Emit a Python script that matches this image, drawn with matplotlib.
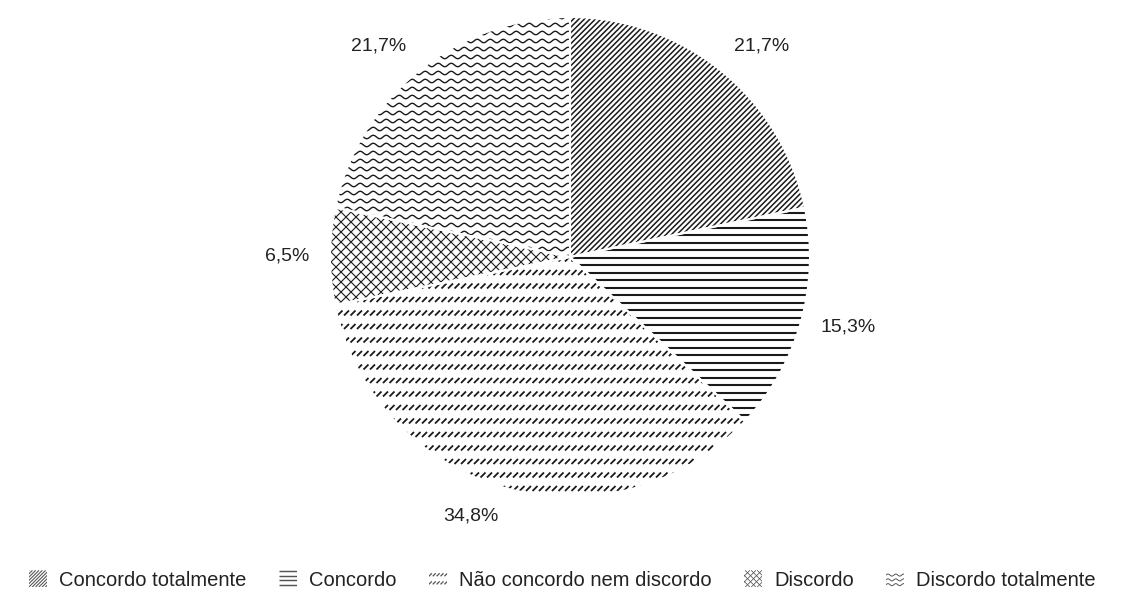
import numpy as np
import matplotlib.pyplot as plt
from matplotlib.collections import LineCollection
from matplotlib.patches import Rectangle, Wedge
from matplotlib.legend_handler import HandlerBase

plt.rcParams['font.family'] = ['Liberation Sans', 'DejaVu Sans']

# data
categories = ['Concordo totalmente', 'Concordo', 'Não concordo nem discordo',
              'Discordo', 'Discordo totalmente']
shares = [21.7, 15.3, 34.8, 6.5, 21.7]
pct_labels = ['21,7%', '15,3%', '34,8%', '6,5%', '21,7%']
textures = ['diag', 'horiz', 'slash', 'cross', 'wave']

W, H, DPI = 1125, 592, 100
R_PX = 240          # pie radius in pixels
CX, CY = 570, 257   # pie centre (pixels from top-left)
FS = 14
TXT = '#222222'


def texture_segments(kind, x0, y0, x1, y1, px):
    """line segments filling the box (x0,y0)-(x1,y1); px = one pixel in box units"""
    segs = []
    w, h = x1 - x0, y1 - y0
    if kind == 'diag':
        s = 5.5 * px
        for c in np.arange(-h, w + s, s):
            segs.append([(x0 + c, y0), (x0 + c + h, y1)])
    elif kind == 'horiz':
        s = 7.5 * px
        for y in np.arange(y0 + s / 2, y1, s):
            segs.append([(x0, y), (x1, y)])
    elif kind == 'cross':
        s = 10 * px
        for c in np.arange(-h, w + s, s):
            segs.append([(x0 + c, y0), (x0 + c + h, y1)])
            segs.append([(x0 + c + h, y0), (x0 + c, y1)])
    elif kind == 'slash':
        rs, cs, d = 13.5 * px, 6.5 * px, 5 * px
        for y in np.arange(y0 + rs / 3, y1, rs):
            for x in np.arange(x0, x1, cs):
                segs.append([(x, y), (x + d, y + d)])
    elif kind == 'wave':
        rs, wl, a = 8 * px, 13 * px, 1.7 * px
        xs = np.arange(x0, x1 + px, px / 2)
        for y in np.arange(y0 + rs / 2, y1, rs):
            segs.append(np.column_stack([xs, y + a * np.sin(2 * np.pi * (xs - x0) / wl)]))
    return segs


LW = {'diag': 1.1, 'horiz': 1.5, 'cross': 0.8, 'slash': 1.3, 'wave': 1.0}

fig = plt.figure(figsize=(W / DPI, H / DPI), dpi=DPI)
ax = fig.add_axes([(CX - R_PX) / W, (H - CY - R_PX) / H, 2 * R_PX / W, 2 * R_PX / H])

wedges, _ = ax.pie(shares, startangle=90, counterclock=False, radius=1,
                   colors=['white'] * 5, wedgeprops=dict(edgecolor='none'))

px = 1.0 / R_PX
for wdg, kind in zip(wedges, textures):
    lc = LineCollection(texture_segments(kind, -1.05, -1.05, 1.05, 1.05, px),
                        colors='#1a1a1a', linewidths=LW[kind], zorder=2)
    ax.add_collection(lc)
    lc.set_clip_path(wdg)

# white separators between slices
for wdg in wedges:
    ax.add_patch(Wedge((0, 0), 1.0, wdg.theta1, wdg.theta2, facecolor='none',
                       edgecolor='white', linewidth=1.5, zorder=3))

# percentage labels just outside each slice
d = 1.085
for wdg, lab in zip(wedges, pct_labels):
    ang = np.deg2rad((wdg.theta1 + wdg.theta2) / 2)
    c, s = np.cos(ang), np.sin(ang)
    ha = 'left' if c > 0.2 else ('right' if c < -0.2 else 'center')
    va = 'bottom' if s > 0.3 else ('top' if s < -0.3 else 'center')
    ax.text(d * c, d * s, lab, ha=ha, va=va, fontsize=FS, color=TXT)

ax.set_xlim(-1, 1)
ax.set_ylim(-1, 1)
ax.set_aspect('equal')
ax.axis('off')


class TextureHandler(HandlerBase):
    def create_artists(self, legend, orig_handle, xdescent, ydescent, width, height,
                       fontsize, trans):
        kind = orig_handle.get_gid()
        x0, y0 = -xdescent, -ydescent
        segs = texture_segments(kind, x0, y0, x0 + width, y0 + height, 0.72 * 0.6)
        clip = Rectangle((x0, y0), width, height, transform=trans, facecolor='none',
                         edgecolor='none')
        lc = LineCollection(segs, colors='#555555', linewidths=LW[kind] * 0.7,
                            transform=trans)
        lc.set_clip_path(clip)
        return [lc]


handles = []
for kind in textures:
    p = Rectangle((0, 0), 1, 1)
    p.set_gid(kind)
    handles.append(p)

leg = fig.legend(handles, categories, loc='center', bbox_to_anchor=(0.5, 1 - 580 / H),
                 ncol=5, frameon=False, fontsize=14.5, handlelength=0.9, handleheight=0.9,
                 handletextpad=0.6, columnspacing=1.6,
                 handler_map={Rectangle: TextureHandler()})
for t in leg.get_texts():
    t.set_color(TXT)

fig.savefig('out.png', dpi=DPI)
